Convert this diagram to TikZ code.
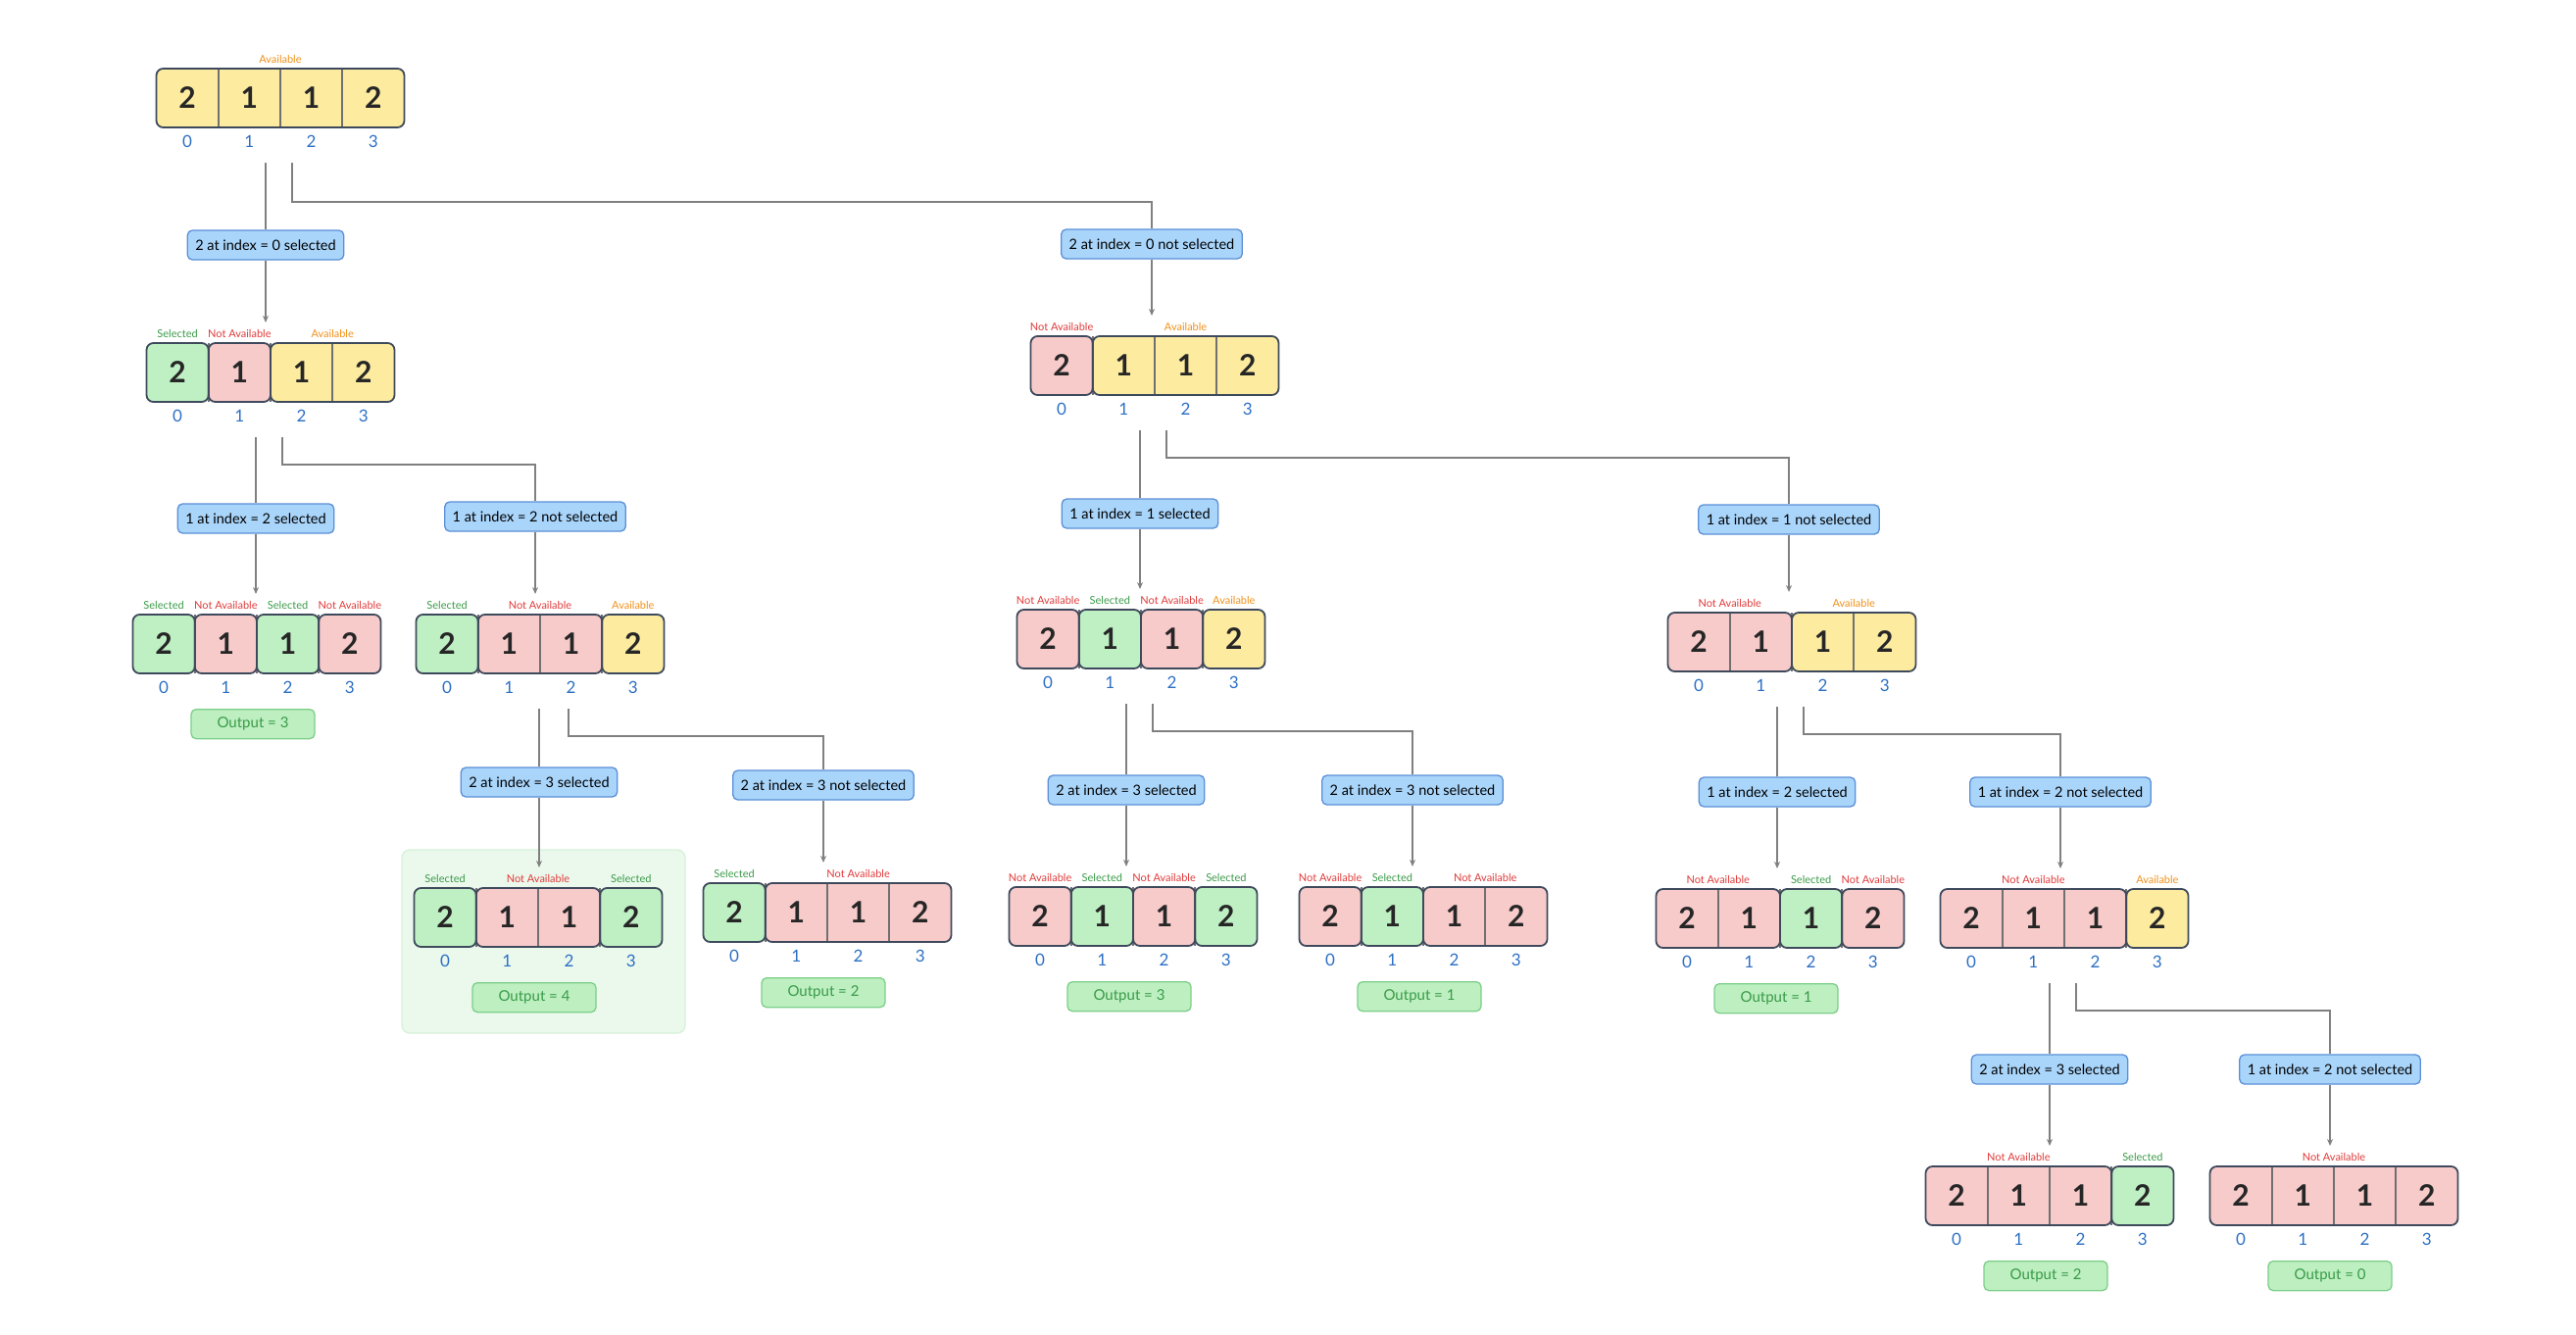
\documentclass[tikz,border=0pt]{standalone}
\usepackage{fontspec}
\setmainfont{Lato}
\usetikzlibrary{calc,arrows.meta,positioning}

\definecolor{selfill}{HTML}{BFF0C3}
\definecolor{nafill}{HTML}{F8CBCB}
\definecolor{avfill}{HTML}{FDECA0}
\definecolor{selcol}{HTML}{3A9A48}
\definecolor{nacol}{HTML}{E03A3A}
\definecolor{avcol}{HTML}{F0901A}
\definecolor{idxcol}{HTML}{2C6FC4}
\definecolor{cellline}{HTML}{3E4A5C}
\definecolor{divcol}{HTML}{707070}
\definecolor{edgefill}{HTML}{A9D5FB}
\definecolor{edgeline}{HTML}{5B8FD6}
\definecolor{outfill}{HTML}{BDEFC1}
\definecolor{outdraw}{HTML}{7CCF88}
\definecolor{hlfill}{HTML}{EBF9ED}
\definecolor{hldraw}{HTML}{D5F0D9}
\definecolor{conncol}{HTML}{808080}

\def\cw{63.25}
\def\txtsel{Selected}
\def\txtna{Not Available}
\def\txtav{Available}

% four cells 2 1 1 2: name, centre, runs as start/length/kind
\newcommand{\statearray}[3]{%
  \node[arrbox] (#1) at (#2) {};
  \foreach \s/\n/\kind in {#3}
    \fill[fill=\kind fill, rounded corners=7pt] ($(#1.north west)+(\s*\cw,0)$) rectangle ($(#1.south west)+(\s*\cw+\n*\cw,0)$);
  \foreach \i in {1,2,3}
    \draw[divider] ($(#1.north west)+(\i*\cw,0)$) -- ($(#1.south west)+(\i*\cw,0)$);
  \foreach \s/\n/\kind in {#3}{
    \draw[runline] ($(#1.north west)+(\s*\cw,0)$) rectangle ($(#1.south west)+(\s*\cw+\n*\cw,0)$);
    \node[stat, text=\kind col] at ($(#1.north west)+(\s*\cw+\n*\cw/2,-10)$) {\csname txt\kind\endcsname};
  }
  \foreach \dig [count=\i from 0] in {2,1,1,2}{
    \node[digit] (#1-\i) at ($(#1.west)+(\i*\cw+\cw/2,0)$) {\dig};
    \node[idx] at ($(#1-\i)+(0,44)$) {\i};
  }
  \coordinate (#1-a) at ($(#1.south)+(-15,36)$);
  \coordinate (#1-b) at ($(#1.south)+(12,36)$);
  \coordinate (#1-in) at ($(#1.north)+(0,-21)$);
}

\begin{document}
\begin{tikzpicture}[x=1pt, y=-1pt,
        arrbox/.style={minimum width=253pt, minimum height=60pt, inner sep=0pt, outer sep=0pt},
        runline/.style={draw=cellline, line width=1.8pt, rounded corners=7pt},
        divider/.style={draw=divcol, line width=1.6pt},
        digit/.style={font=\fontsize{30}{32}\selectfont\bfseries, text=black!85},
        idx/.style={font=\fontsize{17}{19}\selectfont, text=idxcol},
        stat/.style={font=\fontsize{11}{13}\selectfont, inner sep=0pt},
        choice/.style={draw=edgeline, fill=edgefill, rounded corners=5pt, line width=1.3pt,
                       minimum height=30pt, inner xsep=8pt, font=\fontsize{14.5}{16}\selectfont},
        outbox/.style={draw=outdraw, fill=outfill, rounded corners=5pt, line width=1.3pt, xshift=-4pt,
                       minimum width=126pt, minimum height=30pt, text=selcol, font=\fontsize{15}{17}\selectfont},
        hilite/.style={draw=hldraw, fill=hlfill, rounded corners=8pt, line width=1.2pt,
                       minimum width=289pt, minimum height=187pt},
        conn/.style={draw=conncol, line width=2pt},
        arr/.style={conn, -{Stealth[length=7pt, width=6pt]}}]
    \useasboundingbox (0,0) rectangle (2628,1362);
    \node[hilite] (hl) at (554.5,960.5) {};

    \statearray{top}{286,100}{0/4/av}
    \statearray{l1l}{276,380}{0/1/sel,1/1/na,2/2/av}
    \statearray{l1r}{1178,373}{0/1/na,1/3/av}
    \statearray{l2a}{262,657}{0/1/sel,1/1/na,2/1/sel,3/1/na}
    \statearray{l2b}{551,657}{0/1/sel,1/2/na,3/1/av}
    \coordinate (l2b-a) at ($(l2b.south)+(-1,36)$);
    \coordinate (l2b-b) at ($(l2b.south)+(29,36)$);
    \statearray{l2c}{1164,652}{0/1/na,1/1/sel,2/1/na,3/1/av}
    \statearray{l2d}{1828,655}{0/2/na,2/2/av}
    \statearray{l3a}{549,936}{0/1/sel,1/2/na,3/1/sel}
    \statearray{l3b}{844,931}{0/1/sel,1/3/na}
    \statearray{l3c}{1156,935}{0/1/na,1/1/sel,2/1/na,3/1/sel}
    \statearray{l3d}{1452,935}{0/1/na,1/1/sel,2/2/na}
    \statearray{l3e}{1816,937}{0/2/na,2/1/sel,3/1/na}
    \statearray{l3f}{2106,937}{0/3/na,3/1/av}
    \statearray{l4a}{2091,1220}{0/3/na,3/1/sel}
    \statearray{l4b}{2381,1220}{0/4/na}

    \node[outbox, below=36pt of l2a] (o2a) {Output = 3};
    \node[outbox, below=36pt of l3a] (o3a) {Output = 4};
    \node[outbox, below=36pt of l3b] (o3b) {Output = 2};
    \node[outbox, below=36pt of l3c] (o3c) {Output = 3};
    \node[outbox, below=36pt of l3d] (o3d) {Output = 1};
    \node[outbox, below=36pt of l3e] (o3e) {Output = 1};
    \node[outbox, below=36pt of l4a] (o4a) {Output = 2};
    \node[outbox, below=36pt of l4b] (o4b) {Output = 0};

    \node[choice] (e1)  at (top-a |- 0,250)  {2 at index = 0 selected};
    \node[choice] (e2)  at (1175,249)        {2 at index = 0 not selected};
    \node[choice] (e3)  at (l1l-a |- 0,529)  {1 at index = 2 selected};
    \node[choice] (e4)  at (546,527)         {1 at index = 2 not selected};
    \node[choice] (e5)  at (l1r-a |- 0,524)  {1 at index = 1 selected};
    \node[choice] (e6)  at (1825,530)        {1 at index = 1 not selected};
    \node[choice] (e7)  at (l2b-a |- 0,798)  {2 at index = 3 selected};
    \node[choice] (e8)  at (840,801)         {2 at index = 3 not selected};
    \node[choice] (e9)  at (l2c-a |- 0,806)  {2 at index = 3 selected};
    \node[choice] (e10) at (1441,806)        {2 at index = 3 not selected};
    \node[choice] (e11) at (l2d-a |- 0,808)  {1 at index = 2 selected};
    \node[choice] (e12) at (2102,808)        {1 at index = 2 not selected};
    \node[choice] (e13) at (l3f-a |- 0,1091) {2 at index = 3 selected};
    \node[choice] (e14) at (2377,1091)       {1 at index = 2 not selected};

    \draw[arr] (top-a) -- (e1) -- (e1 |- l1l-in);
    \draw[arr] (top-b) -- ++(0,40) -| (e2) -- (e2 |- l1r-in);
    \draw[arr] (l1l-a) -- (e3) -- (e3 |- l2a-in);
    \draw[arr] (l1l-b) -- ++(0,28) -| (e4) -- (e4 |- l2b-in);
    \draw[arr] (l1r-a) -- (e5) -- (e5 |- l2c-in);
    \draw[arr] (l1r-b) -- ++(0,28) -| (e6) -- (e6 |- l2d-in);
    \draw[arr] (l2b-a) -- (e7) -- (e7 |- l3a-in);
    \draw[arr] (l2b-b) -- ++(0,28) -| (e8) -- (e8 |- l3b-in);
    \draw[arr] (l2c-a) -- (e9) -- (e9 |- l3c-in);
    \draw[arr] (l2c-b) -- ++(0,28) -| (e10) -- (e10 |- l3d-in);
    \draw[arr] (l2d-a) -- (e11) -- (e11 |- l3e-in);
    \draw[arr] (l2d-b) -- ++(0,28) -| (e12) -- (e12 |- l3f-in);
    \draw[arr] (l3f-a) -- (e13) -- (e13 |- l4a-in);
    \draw[arr] (l3f-b) -- ++(0,28) -| (e14) -- (e14 |- l4b-in);
\end{tikzpicture}
\end{document}
